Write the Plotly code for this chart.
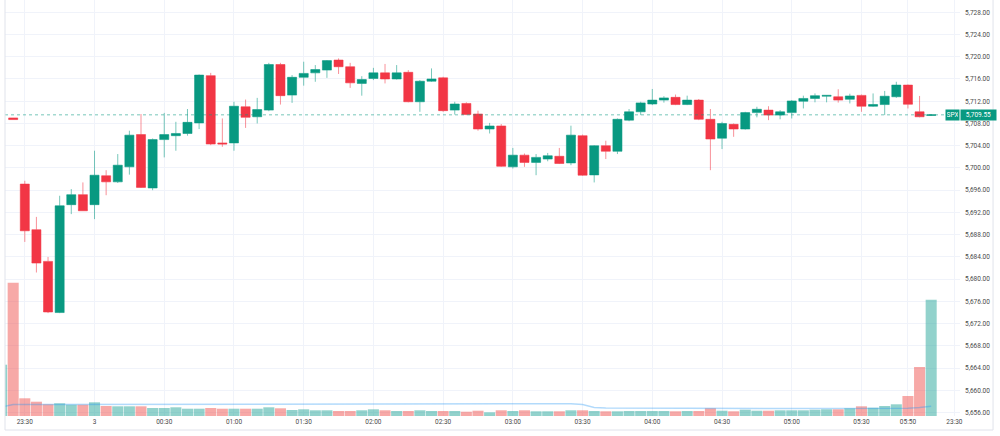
import plotly.graph_objects as go

# ---------------- data (5-minute bars) ----------------
# candle bars: index -1 .. 78 (index 0 = 23:30)
candle_idx = list(range(-1, 79))
opens = [5709.0, 5697.1, 5688.9, 5683.2, 5674.0, 5693.4, 5695.2, 5693.4, 5698.6, 5697.5,
         5700.2, 5706.0, 5696.4, 5705.1, 5705.8, 5706.2, 5708.1, 5716.6, 5704.5, 5704.5,
         5711.0, 5709.2, 5710.4, 5718.6, 5713.1, 5716.3, 5717.1, 5717.6, 5719.4, 5718.2,
         5715.2, 5716.1, 5717.1, 5716.0, 5717.2, 5711.9, 5715.6, 5716.2, 5710.4, 5711.6,
         5709.7, 5707.0, 5707.55, 5700.2, 5702.3, 5701.0, 5701.6, 5702.1, 5700.9, 5705.8,
         5698.75, 5704.0, 5703.0, 5708.6, 5710.1, 5711.5, 5712.2, 5712.7, 5711.4, 5712.2,
         5708.75, 5705.35, 5707.85, 5707.0, 5709.95, 5710.4, 5709.5, 5709.95, 5712.0, 5712.5,
         5712.9, 5712.8, 5712.35, 5713.05, 5711.1, 5711.4, 5712.8, 5714.9, 5710.1, 5709.45]
highs = [5709.0, 5697.7, 5691.2, 5684.0, 5695.0, 5696.2, 5697.4, 5703.1, 5699.6, 5702.5,
         5706.7, 5709.7, 5705.3, 5709.9, 5708.3, 5710.6, 5716.8, 5717.1, 5708.9, 5711.9,
         5712.3, 5712.6, 5718.9, 5718.9, 5716.7, 5719.1, 5718.5, 5719.4, 5719.7, 5718.9,
         5716.5, 5718.0, 5718.7, 5718.5, 5717.6, 5715.8, 5717.9, 5716.4, 5711.9, 5711.8,
         5710.3, 5708.1, 5707.9, 5703.6, 5702.6, 5702.5, 5702.7, 5703.6, 5707.6, 5706.0,
         5704.1, 5704.9, 5708.9, 5710.6, 5711.9, 5714.2, 5712.9, 5713.2, 5713.0, 5712.4,
         5710.6, 5708.3, 5708.0, 5710.1, 5711.0, 5711.1, 5710.4, 5712.2, 5713.0, 5713.4,
         5713.1, 5714.15, 5713.35, 5713.2, 5713.4, 5713.85, 5715.5, 5715.0, 5712.95, 5709.6]
lows = [5708.7, 5686.7, 5681.2, 5673.9, 5673.9, 5691.7, 5692.3, 5690.8, 5695.1, 5697.3,
        5698.8, 5696.4, 5696.0, 5701.9, 5703.1, 5705.8, 5707.0, 5704.1, 5703.8, 5703.1,
        5707.2, 5708.0, 5710.2, 5711.4, 5711.7, 5714.8, 5715.5, 5716.2, 5716.9, 5714.4,
        5713.0, 5715.8, 5715.2, 5715.9, 5711.8, 5710.1, 5715.5, 5710.1, 5709.6, 5709.5,
        5706.7, 5706.2, 5700.2, 5699.9, 5700.2, 5698.7, 5701.2, 5700.7, 5700.5, 5698.6,
        5697.4, 5701.6, 5702.5, 5708.4, 5709.5, 5711.3, 5711.75, 5711.3, 5711.3, 5708.6,
        5699.6, 5703.4, 5705.6, 5706.9, 5709.1, 5708.6, 5708.75, 5708.9, 5710.7, 5711.8,
        5711.8, 5711.75, 5711.6, 5710.1, 5711.0, 5709.5, 5712.6, 5710.7, 5709.1, 5709.4]
closes = [5708.7, 5688.7, 5682.9, 5674.1, 5693.2, 5695.2, 5692.3, 5698.7, 5697.5, 5700.5,
          5705.9, 5696.5, 5705.1, 5706.0, 5706.2, 5708.2, 5716.7, 5704.3, 5704.3, 5711.1,
          5709.1, 5710.5, 5718.6, 5713.0, 5716.3, 5717.0, 5717.7, 5719.3, 5718.2, 5715.3,
          5715.9, 5717.1, 5716.0, 5717.1, 5711.9, 5715.6, 5716.0, 5710.3, 5711.5, 5709.6,
          5707.0, 5707.55, 5700.3, 5702.3, 5701.0, 5701.9, 5702.2, 5700.8, 5705.9, 5698.7,
          5704.0, 5703.0, 5708.75, 5710.1, 5711.7, 5712.2, 5712.6, 5711.4, 5712.2, 5708.75,
          5705.2, 5708.0, 5707.0, 5709.95, 5710.55, 5709.5, 5710.1, 5712.05, 5712.5, 5713.0,
          5713.05, 5712.2, 5712.95, 5711.1, 5711.4, 5712.9, 5714.9, 5711.45, 5709.2, 5709.55]

# volume bars: index -2 .. 78
volume_idx = list(range(-2, 79))
volume = [513, 1333, 177, 143, 117, 127, 113, 113, 137, 100,
          97, 97, 97, 80, 80, 87, 73, 73, 80, 73,
          73, 73, 73, 87, 77, 60, 67, 57, 57, 50,
          50, 57, 67, 57, 50, 50, 57, 50, 50, 50,
          43, 53, 37, 57, 50, 57, 47, 47, 47, 57,
          57, 50, 47, 47, 50, 50, 50, 50, 47, 50,
          50, 77, 53, 47, 63, 53, 53, 57, 57, 57,
          63, 67, 67, 77, 97, 83, 100, 117, 200, 490,
          1163]
volume_ma = [90, 114, 116, 116, 117, 117, 117, 118, 118, 118,
             118, 119, 119, 119, 119, 119, 120, 120, 120, 120,
             120, 120, 121, 121, 121, 121, 121, 121, 121, 121,
             122, 122, 122, 122, 122, 122, 122, 122, 122, 123,
             123, 123, 123, 123, 123, 123, 123, 123, 123, 122,
             114, 86, 81, 80, 79, 79, 78, 78, 77, 77,
             76, 76, 76, 75, 75, 75, 74, 74, 74, 74,
             73, 73, 73, 73, 73, 73, 74, 74, 77, 85,
             97]

tick_pos = [0, 6, 12, 18, 24, 30, 36, 42, 48, 54, 60, 66, 72, 76, 80]
tick_text = ["23:30", "3", "00:30", "01:00", "01:30", "02:00", "02:30", "03:00",
             "03:30", "04:00", "04:30", "05:00", "05:30", "05:50", "23:30"]
price_ticks = list(range(5656, 5729, 4))
symbol = "SPX"

# ---------------- styling ----------------
UP = "#089981"
DOWN = "#F23645"
UP_VOL = "rgba(38,166,154,0.5)"
DOWN_VOL = "rgba(239,83,80,0.5)"
GRID = "#f0f3fa"

vol_colors = [UP_VOL] + [UP_VOL if c >= o else DOWN_VOL for o, c in zip(opens, closes)]

fig = go.Figure()

fig.add_trace(go.Bar(
    x=volume_idx, y=volume, marker=dict(color=vol_colors, line=dict(width=0)),
    yaxis="y2", hoverinfo="skip", showlegend=False))

fig.add_trace(go.Scatter(
    x=volume_idx, y=volume_ma, mode="lines", yaxis="y2",
    line=dict(color="rgba(33,150,243,0.35)", width=1.5),
    hoverinfo="skip", showlegend=False))

fig.add_trace(go.Candlestick(
    x=candle_idx, open=opens, high=highs, low=lows, close=closes,
    increasing=dict(line=dict(color="rgba(8,153,129,0.55)", width=1), fillcolor=UP),
    decreasing=dict(line=dict(color="rgba(242,54,69,0.55)", width=1), fillcolor=DOWN),
    whiskerwidth=0, showlegend=False))

last = closes[-1]

fig.update_layout(
    width=1000, height=436,
    margin=dict(l=5, r=40, t=0, b=20),
    paper_bgcolor="white", plot_bgcolor="white",
    showlegend=False,
    boxgap=0.22, boxgroupgap=0, bargap=0.05,
    font=dict(family="Roboto, 'Liberation Sans', sans-serif", size=6.5, color="#4a4a4a"),
    xaxis=dict(range=[-1.704, 80.48], tickvals=tick_pos, ticktext=tick_text,
               showgrid=True, gridcolor=GRID, gridwidth=1, zeroline=False,
               showline=False, ticks="", rangeslider=dict(visible=False),
               tickfont=dict(size=6.5, color="#4a4a4a")),
    yaxis=dict(side="right", range=[5655.4, 5730.2], tickvals=price_ticks,
               tickformat=",.2f", showgrid=True, gridcolor=GRID, gridwidth=1,
               zeroline=False, showline=False, ticks="", ticklabelstandoff=4,
               tickfont=dict(size=6.5, color="#4a4a4a")),
    yaxis2=dict(overlaying="y", range=[0, 4160], visible=False, showgrid=False),
    shapes=[
        dict(type="line", xref="paper", yref="y", x0=0, x1=0.984, y0=last, y1=last,
             line=dict(color="rgba(8,153,129,0.55)", width=1, dash="dot")),
        dict(type="line", xref="paper", yref="paper", x0=0, x1=0, y0=-0.0337, y1=1,
             line=dict(color="#e0e3eb", width=1)),
        dict(type="line", xref="paper", yref="paper", x0=0, x1=1.0346, y0=-0.0337, y1=-0.0337,
             line=dict(color="#e0e3eb", width=1)),
        dict(type="line", xref="paper", yref="paper", x0=1.0346, x1=1.0346, y0=-0.0337, y1=1,
             line=dict(color="#e0e3eb", width=1)),
    ],
    annotations=[
        dict(xref="paper", yref="y", x=0.9843, y=last, xanchor="left", yanchor="middle",
             text=symbol, showarrow=False, bgcolor=UP, width=11, height=8, borderpad=1,
             font=dict(color="white", size=6.5)),
        dict(xref="paper", yref="y", x=1.0, y=last, xanchor="left", yanchor="middle",
             text=f"{last:,.2f}", showarrow=False, bgcolor=UP, width=33, height=8,
             borderpad=1, font=dict(color="white", size=6.5)),
    ],
)

fig.write_html("out.html")
